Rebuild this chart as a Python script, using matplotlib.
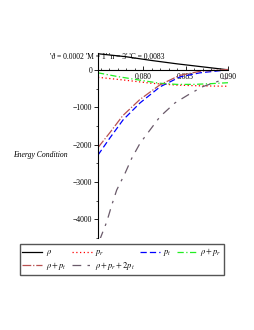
import matplotlib; matplotlib.use("Agg")
import matplotlib.pyplot as plt
from matplotlib.ticker import MultipleLocator

plt.rcParams["font.family"] = ["Liberation Serif", "DejaVu Serif"]
plt.rcParams["mathtext.fontset"] = "stix"

# values
x_rho = [0.0747, 0.0780, 0.0810, 0.0840, 0.0870, 0.0900]
rho = [430, 350, 250, 160, 80, 0]

x_pr = [0.0747, 0.0780, 0.0810, 0.0840, 0.0870, 0.0900]
p_r = [-200, -280, -360, -410, -430, -440]

x_pt = [0.0747, 0.0761, 0.07765, 0.07965, 0.0820, 0.08435, 0.0867, 0.0900]
p_t = [-2280, -1823, -1340, -885, -455, -190, -80, 0]

x_rpr = [0.0747, 0.0770, 0.0800, 0.0820, 0.0840, 0.0860, 0.0880, 0.0900]
rho_pr = [-80, -180, -290, -360, -390, -390, -370, -345]

x_rpt = [0.0747, 0.0761, 0.0776, 0.0796, 0.0820, 0.0843, 0.0867, 0.0900]
rho_pt = [-2080, -1680, -1230, -800, -400, -150, -40, 10]

x_all = [0.07490, 0.07573, 0.07632, 0.07690, 0.07788, 0.07867, 0.07965,
         0.08200, 0.08376, 0.08553, 0.08706, 0.09000]
rho_pr_2pt = [-4550, -4067, -3619, -3217, -2770, -2367, -1965,
              -1252, -885, -640, -448, -215]

title = "'\u03d1 = 0.0002 'M = 1' 'n = 3' 'C = 0.0083"

fig = plt.figure(figsize=(2.55, 3.3), dpi=100)
ax = fig.add_axes([98/255, 1-238/330, 130/255, 185/330])

ax.plot(x_rho, rho, color="black", lw=0.9, label=r"$\rho$")
ax.plot(x_pr, p_r, color="red", lw=0.9, ls=(0, (1, 2)), label=r"$p_r$")
ax.plot(x_pt, p_t, color="blue", lw=0.9, ls=(0, (5, 2.5)), label=r"$p_t$")
ax.plot(x_rpr, rho_pr, color="#22ee22", lw=0.9, ls=(0, (5, 2, 1, 2)), label=r"$\rho + p_r$")
ax.plot(x_rpt, rho_pt, color="#b85050", lw=0.9, ls=(0, (7, 1.5, 1, 1.5)), label=r"$\rho + p_t$")
ax.plot(x_all, rho_pr_2pt, color="#6a5a6a", lw=0.9, ls=(0, (7, 5, 2, 5)), label=r"$\rho + p_r + 2p_t$")

ax.set_xlim(0.0747, 0.0900)
ax.set_ylim(-4500, 450)
for s in ("top", "right"):
    ax.spines[s].set_visible(False)
ax.spines["bottom"].set_position(("data", 0))
for s in ("left", "bottom"):
    ax.spines[s].set_linewidth(0.8)
ax.xaxis.set_major_locator(MultipleLocator(0.005))
ax.xaxis.set_minor_locator(MultipleLocator(0.001))
ax.yaxis.set_major_locator(MultipleLocator(1000))
ax.yaxis.set_minor_locator(MultipleLocator(500))
ax.tick_params(axis="x", which="both", direction="in", labelsize=5.5, pad=2)
ax.tick_params(axis="x", which="major", length=3, width=0.6)
ax.tick_params(axis="x", which="minor", length=1.5, width=0.5)
ax.tick_params(axis="y", which="major", length=3, width=0.6, labelsize=5.5, pad=1)
ax.tick_params(axis="y", which="minor", length=1.5, width=0.5)
ax.set_xticks([0.080, 0.085, 0.090])
ax.set_xticklabels(["0.080", "0.085", "0.090"])
ax.set_yticks([0, -1000, -2000, -3000, -4000])
ax.set_yticklabels(["0", "\u22121000", "\u22122000", "\u22123000", "\u22124000"])

fig.text(107/255, 1-57/330, title, ha="center", va="center", fontsize=5.5)
fig.text(40/255, 1-155/330, "Energy Condition", ha="center", va="center",
         fontsize=5.5, style="italic")

# legend filled column by column: rows read rho, p_r, p_t, rho+p_r / rho+p_t, rho+p_r+2p_t
h, l = ax.get_legend_handles_labels()
order = [0, 4, 1, 5, 2, 3]
fig.legend([h[i] for i in order], [l[i] for i in order], ncol=4, loc="upper left",
           bbox_to_anchor=(20/255, 1-244/330),
           fontsize=6, frameon=True, fancybox=False, edgecolor="#555555",
           framealpha=1, handlelength=2.4, handletextpad=0.4, columnspacing=0.6,
           borderpad=0.3, labelspacing=0.2, borderaxespad=0)

fig.savefig("out.png", dpi=100)
